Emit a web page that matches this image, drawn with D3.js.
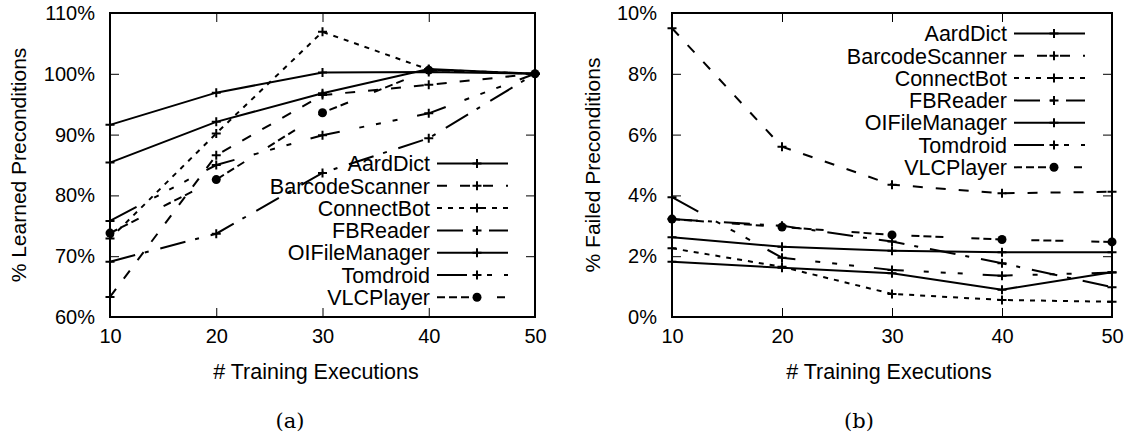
<!DOCTYPE html>
<html>
<head>
<meta charset="utf-8">
<script src="https://cdn.jsdelivr.net/npm/d3@7"></script>
<style>
  body { margin: 0; background: #fff; }
  svg text { font-family: "Liberation Sans", Arial, Helvetica, sans-serif; fill: #000; }
</style>
</head>
<body>
<div class="chart"></div>
<script>
// x values shared by both panels
var executions = [10, 20, 30, 40, 50];
var appNames = ["AardDict", "BarcodeScanner", "ConnectBot", "FBReader", "OIFileManager", "Tomdroid", "VLCPlayer"];

// (a) learned preconditions, %
var learnedAardDict       = [91.6, 96.9, 100.2, 100.3, 100];
var learnedBarcodeScanner = [63.3, 86.6, 96.5, 98.2, 100];
var learnedConnectBot     = [72.9, 90.2, 106.9, 100.7, 100];
var learnedFBReader       = [69.1, 73.7, 83.7, 89.4, 100];
var learnedOIFileManager  = [85.4, 92.1, 96.8, 100.8, 100];
var learnedTomdroid       = [75.8, 85.0, 89.9, 93.5, 100];
var learnedVLCPlayer      = [73.8, 82.6, 93.6, 100.6, 100];

// (b) failed preconditions, %
var failedAardDict       = [2.62, 2.31, 2.18, 2.13, 2.13];
var failedBarcodeScanner = [9.5, 5.6, 4.35, 4.07, 4.12];
var failedConnectBot     = [2.26, 1.65, 0.76, 0.56, 0.5];
var failedFBReader       = [3.22, 3.0, 2.48, 1.77, 0.98];
var failedOIFileManager  = [1.82, 1.62, 1.44, 0.9, 1.47];
var failedTomdroid       = [3.94, 1.95, 1.55, 1.36, 1.46];
var failedVLCPlayer      = [3.22, 2.96, 2.70, 2.55, 2.47];

var learnedTicks = [60, 70, 80, 90, 100, 110];
var failedTicks = [0, 2, 4, 6, 8, 10];

// gnuplot-like line styles, same order as appNames
var dashStyles = [null, "10,13", "5,6", "26,10,4,12", null, "30,20,5,12,5,12,5,20", "8,4,8,4,8,28"];

var svg = d3.select(".chart")
  .append("svg")
  .attr("width", 1139)
  .attr("height", 444);

function plusPath(x, y) {
  var h = 4.5;
  return `M${x - h},${y}H${x + h}M${x},${y - h}V${y + h}`;
}

function drawPanel(p) {
  var x = d3.scaleLinear().domain([10, 50]).range([p.left, p.right]);
  var y = d3.scaleLinear().domain(p.yDomain).range([p.bottom, p.top]);

  var g = svg.append("g");

  // tick marks on all four sides, labels on left and bottom
  g.append("g")
    .attr("transform", `translate(${p.left},0)`)
    .call(d3.axisLeft(y).tickValues(p.yTicks).tickSize(-9).tickSizeOuter(0).tickPadding(15)
      .tickFormat(d => d + "%"))
    .call(a => a.select(".domain").remove())
    .call(a => a.selectAll("text").style("font-size", "20px"));

  g.append("g")
    .attr("transform", `translate(${p.right},0)`)
    .call(d3.axisRight(y).tickValues(p.yTicks).tickSize(-9).tickSizeOuter(0).tickFormat(""))
    .call(a => a.select(".domain").remove());

  g.append("g")
    .attr("transform", `translate(0,${p.bottom})`)
    .call(d3.axisBottom(x).tickValues(executions).tickSize(-9).tickSizeOuter(0).tickPadding(12)
      .tickFormat(d3.format("d")))
    .call(a => a.select(".domain").remove())
    .call(a => a.selectAll("text").style("font-size", "20px"));

  g.append("g")
    .attr("transform", `translate(0,${p.top})`)
    .call(d3.axisTop(x).tickValues(executions).tickSize(-9).tickSizeOuter(0).tickFormat(""))
    .call(a => a.select(".domain").remove());

  g.selectAll(".tick line").attr("stroke", "#000").attr("stroke-width", 1);

  var line = d3.line()
    .x((d, i) => x(executions[i]))
    .y(d => y(d));

  p.series.forEach(function (vals, k) {
    g.append("path")
      .attr("d", line(vals))
      .attr("fill", "none")
      .attr("stroke", "#000")
      .attr("stroke-width", 2)
      .attr("stroke-dasharray", dashStyles[k]);

    vals.forEach(function (v, i) {
      if (appNames[k] === "VLCPlayer") {
        g.append("circle").attr("cx", x(executions[i])).attr("cy", y(v)).attr("r", 4.5).attr("fill", "#000");
      } else {
        g.append("path").attr("d", plusPath(x(executions[i]), y(v)))
          .attr("stroke", "#000").attr("stroke-width", 2);
      }
    });
  });

  // legend, rows packed tight like gnuplot's key
  appNames.forEach(function (name, k) {
    var ly = p.legendTop + k * 22.3;
    g.append("text")
      .attr("x", p.legendText)
      .attr("y", ly)
      .attr("dy", "0.36em")
      .attr("text-anchor", "end")
      .style("font-size", "21.5px")
      .text(name);
    g.append("line")
      .attr("x1", p.legendText + 7).attr("x2", p.legendText + 78)
      .attr("y1", ly).attr("y2", ly)
      .attr("stroke", "#000").attr("stroke-width", 2)
      .attr("stroke-dasharray", dashStyles[k]);
    var mx = p.legendText + 47;
    if (name === "VLCPlayer") {
      g.append("circle").attr("cx", mx).attr("cy", ly).attr("r", 4.5).attr("fill", "#000");
    } else {
      g.append("path").attr("d", plusPath(mx, ly)).attr("stroke", "#000").attr("stroke-width", 2);
    }
  });

  // frame
  g.append("rect")
    .attr("x", p.left).attr("y", p.top)
    .attr("width", p.right - p.left).attr("height", p.bottom - p.top)
    .attr("fill", "none").attr("stroke", "#000").attr("stroke-width", 2);

  // axis titles
  g.append("text")
    .attr("transform", `translate(${p.yTitleX},${(p.top + p.bottom) / 2}) rotate(-90)`)
    .attr("text-anchor", "middle")
    .style("font-size", "21px")
    .text(p.yTitle);

  g.append("text")
    .attr("x", p.xTitleX)
    .attr("y", 379)
    .attr("text-anchor", "middle")
    .style("font-size", "21.5px")
    .text("# Training Executions");

  g.append("text")
    .attr("x", p.captionX)
    .attr("y", 428)
    .attr("text-anchor", "middle")
    .style("font-family", "'DejaVu Serif', 'Liberation Serif', serif")
    .style("font-size", "21px")
    .text(p.caption);
}

drawPanel({
  left: 110, right: 535, top: 13, bottom: 317,
  yDomain: [60, 110], yTicks: learnedTicks,
  series: [learnedAardDict, learnedBarcodeScanner, learnedConnectBot, learnedFBReader,
           learnedOIFileManager, learnedTomdroid, learnedVLCPlayer],
  legendText: 430, legendTop: 163.5,
  yTitle: "% Learned Preconditions", yTitleX: 26,
  xTitleX: 316, caption: "(a)", captionX: 290
});

drawPanel({
  left: 672, right: 1112, top: 13, bottom: 317,
  yDomain: [0, 10], yTicks: failedTicks,
  series: [failedAardDict, failedBarcodeScanner, failedConnectBot, failedFBReader,
           failedOIFileManager, failedTomdroid, failedVLCPlayer],
  legendText: 1007, legendTop: 33.5,
  yTitle: "% Failed Preconditions", yTitleX: 600,
  xTitleX: 889, caption: "(b)", captionX: 859
});
</script>
</body>
</html>
